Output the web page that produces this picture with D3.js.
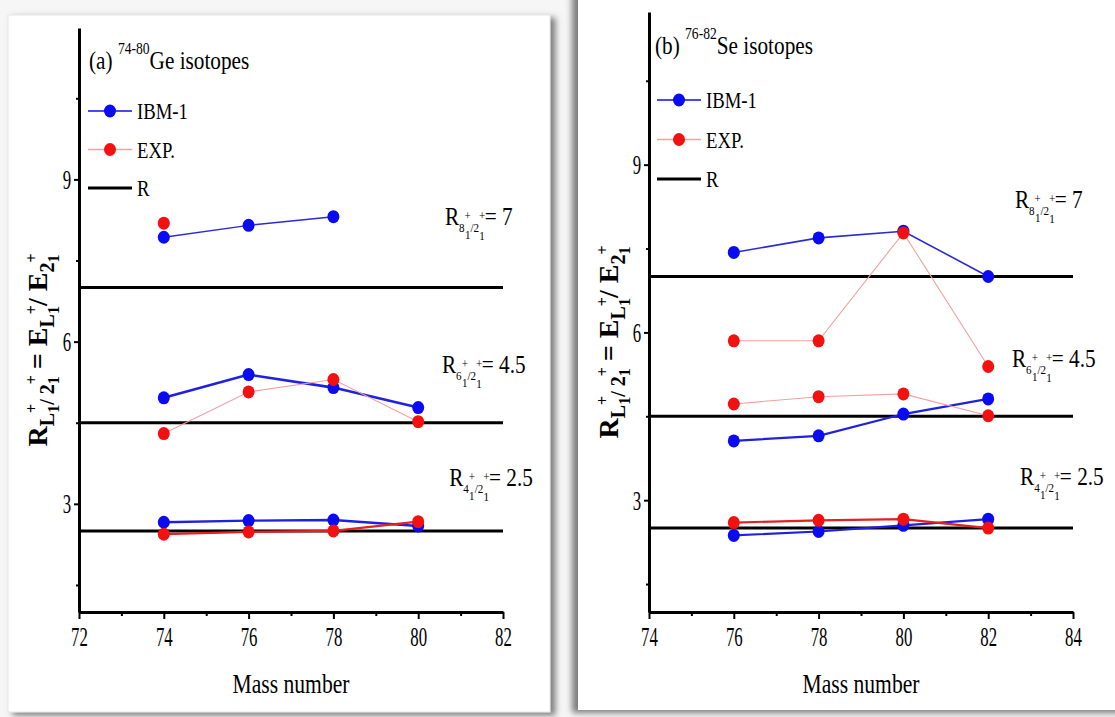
<!DOCTYPE html>
<html>
<head>
<meta charset="utf-8">
<script src="https://cdn.jsdelivr.net/npm/d3@7"></script>
<style>
body{margin:0;background:#f6f6f6;}
svg{display:block;}
text{font-family:"Liberation Serif","Times New Roman","DejaVu Serif",serif;fill:#000;}
</style>
</head>
<body>
<svg id="fig" width="1115" height="717"></svg>
<script>
// data
var geMass = [74, 76, 78, 80];
var geIbmR4 = [2.66, 2.69, 2.70, 2.59];
var geExpR4 = [2.44, 2.48, 2.50, 2.67];
var geIbmR6 = [4.96, 5.39, 5.15, 4.78];
var geExpR6 = [4.30, 5.07, 5.30, 4.52];
var geIbmR8 = [7.93, 8.15, 8.31];
var geExpR8 = [8.19];

var seMass = [76, 78, 80, 82];
var seIbmR4 = [2.37, 2.44, 2.55, 2.66];
var seExpR4 = [2.60, 2.64, 2.66, 2.50];
var seIbmR6 = [4.06, 4.15, 4.54, 4.81];
var seExpR6 = [4.72, 4.85, 4.90, 4.51];
var seIbmR8 = [7.43, 7.69, 7.81, 7.00];
var seExpR8 = [5.85, 5.85, 7.78, 5.39];

var limitValues = [2.5, 4.5, 7];
var limitSpin = ["4", "6", "8"];
var limitText = ["2.5", "4.5", "7"];
var yMajorTicks = [3, 6, 9];
var yMinorTicks = [1.5, 4.5, 7.5, 10.5];
var legendNames = ["IBM-1", "EXP.", "R"];

var blue = "#0b0bf2", red = "#f21010";
var svg = d3.select("#fig");
var defs = svg.append("defs");
function shadow(id, dx){
	var f = defs.append("filter").attr("id", id)
		.attr("x", "-10%").attr("y", "-10%").attr("width", "120%").attr("height", "120%");
	f.append("feDropShadow").attr("dx", dx).attr("dy", 3).attr("stdDeviation", 3)
		.attr("flood-color", "#666").attr("flood-opacity", 0.85);
}
shadow("shR", 5);
shadow("shL", -6);

// cards
svg.append("rect").attr("x", 8).attr("y", 15).attr("width", 542).attr("height", 697)
	.attr("fill", "#fff").attr("stroke", "#e6e6e6").attr("filter", "url(#shR)");
svg.append("rect").attr("x", 578).attr("y", -10).attr("width", 560).attr("height", 720)
	.attr("fill", "#fff").attr("filter", "url(#shL)");

function rich(sel, pieces){
	var cur = 0;
	pieces.forEach(function(p){
		var b = p.b || 0;
		var ts = sel.append("tspan").text(p.t).attr("font-size", p.s).attr("dy", b - cur);
		if(p.dx){ ts.attr("dx", p.dx); }
		cur = b;
	});
}

function drawPanel(p){
	var g = svg.append("g");
	var x = d3.scaleLinear().domain(p.xDomain).range(p.xRange);
	var y = d3.scaleLinear().domain(p.yDomain).range(p.yRange);
	var line = d3.line().x(function(d){ return x(d[0]); }).y(function(d){ return y(d[1]); });

	// reference R lines
	g.selectAll("line.ref").data(limitValues).enter().append("line")
		.attr("x1", x(p.xDomain[0])).attr("x2", x(p.xDomain[1]))
		.attr("y1", function(d){ return y(d); }).attr("y2", function(d){ return y(d); })
		.attr("stroke", "#000").attr("stroke-width", 3);

	// series
	p.series.forEach(function(s){
		var pts = s.values.map(function(v, i){ return [p.mass[i], v]; });
		g.append("path").datum(pts).attr("d", line)
			.attr("fill", "none").attr("stroke", s.line).attr("stroke-width", s.width);
	});
	p.series.forEach(function(s){
		var pts = s.values.map(function(v, i){ return [p.mass[i], v]; });
		g.selectAll(null).data(pts).enter().append("ellipse")
			.attr("cx", function(d){ return x(d[0]); }).attr("cy", function(d){ return y(d[1]); })
			.attr("rx", 6).attr("ry", 6.5).attr("fill", s.dot);
	});

	// axes
	var xMajor = d3.range(p.xDomain[0], p.xDomain[1] + 1, 2);
	var xMinor = d3.range(p.xDomain[0] + 1, p.xDomain[1], 2);
	g.append("g").attr("transform", "translate(0," + p.yRange[0] + ")")
		.call(d3.axisBottom(x).tickValues(xMajor).tickSize(7).tickSizeOuter(0).tickPadding(7).tickFormat(d3.format("d")));
	g.append("g").attr("transform", "translate(0," + p.yRange[0] + ")")
		.call(d3.axisBottom(x).tickValues(xMinor).tickSize(4).tickFormat(""))
		.select(".domain").remove();
	var ya = g.append("g").attr("transform", "translate(" + p.xRange[0] + ",0)")
		.call(d3.axisLeft(y).tickValues(yMajorTicks).tickSize(5).tickSizeOuter(0).tickPadding(1).tickFormat(d3.format("d")));
	g.append("g").attr("transform", "translate(" + p.xRange[0] + ",0)")
		.call(d3.axisLeft(y).tickValues(yMinorTicks).tickSize(3).tickFormat(""))
		.select(".domain").remove();
	g.selectAll(".domain").attr("stroke", "#000").attr("stroke-width", 3);
	g.selectAll(".tick line").attr("stroke", "#000").attr("stroke-width", 2);
	g.selectAll(".tick text").attr("font-family", "Liberation Serif, DejaVu Serif, serif").attr("font-size", 28).attr("fill", "#1a1a1a")
		.attr("transform", "scale(0.6,1)");
	ya.selectAll(".tick text").attr("x", -13);

	// axis title
	g.append("text").attr("transform", "translate(" + (x(p.xDomain[0]) + x(p.xDomain[1])) / 2 + ",693) scale(0.8,1)")
		.attr("text-anchor", "middle").attr("font-size", 27).text("Mass number");

	var yl = g.append("text").attr("text-anchor", "middle").attr("font-weight", "bold")
		.attr("transform", "translate(" + p.yLabel[0] + "," + p.yLabel[1] + ") rotate(-90)");
	rich(yl, [
		{t: "R", s: 28}, {t: "L", s: 20, b: 7}, {t: "+", s: 16, b: -10}, {t: "1", s: 16, b: 12, dx: -9},
		{t: "/", s: 20, b: 7}, {t: " 2", s: 20, b: 7}, {t: "+", s: 16, b: -10}, {t: "1", s: 16, b: 12, dx: -9},
		{t: " = E", s: 28}, {t: "L", s: 20, b: 7}, {t: "+", s: 16, b: -10}, {t: "1", s: 16, b: 12, dx: -9},
		{t: "/ E", s: 28}, {t: "2", s: 20, b: 7}, {t: "+", s: 16, b: -10}, {t: "1", s: 16, b: 12, dx: -9}
	]);

	// title
	var tt = g.append("text").attr("transform", "translate(" + p.title[0] + "," + p.title[1] + ") scale(0.85,1)");
	rich(tt, [{t: p.tag + " ", s: 25}, {t: p.range, s: 16, b: -15}, {t: p.element + " isotopes", s: 25}]);

	// legend
	var lg = g.append("g").attr("transform", "translate(" + p.legend[0] + ",0)");
	legendNames.forEach(function(name, i){
		var ly = p.legend[1] + i * p.legend[2];
		lg.append("line").attr("x1", 0).attr("x2", 44).attr("y1", ly).attr("y2", ly)
			.attr("stroke", i === 0 ? blue : (i === 1 ? "#f4a0a0" : "#000"))
			.attr("stroke-width", i === 2 ? 3 : 1.3);
		if(i < 2){
			lg.append("ellipse").attr("cx", 22).attr("cy", ly).attr("rx", 6).attr("ry", 6.5).attr("fill", i === 0 ? blue : red);
		}
		lg.append("text").attr("transform", "translate(49," + (ly + 8) + ") scale(0.78,1)")
			.attr("font-size", 24).text(name);
	});

	// R_L labels
	limitValues.forEach(function(v, i){
		var at = p.labelAt[i];
		var t = g.append("text").attr("transform", "translate(" + x(at[0]) + "," + y(at[1]) + ") scale(0.85,1)");
		rich(t, [
			{t: "R", s: 25}, {t: limitSpin[i], s: 13, b: 7}, {t: "+", s: 13, b: -5}, {t: "1", s: 13, b: 14, dx: -7},
			{t: "/2", s: 13, b: 7}, {t: "+", s: 13, b: -5}, {t: "1", s: 13, b: 15, dx: -7},
			{t: "= " + limitText[i], s: 25}
		]);
	});
}

drawPanel({
	xDomain: [72, 82], xRange: [79, 503],
	yDomain: [1, 11.8], yRange: [612, 28],
	mass: geMass,
	series: [
		{values: geIbmR4, line: "#2020e0", width: 2.4, dot: blue},
		{values: geIbmR6, line: "#2020e0", width: 2.6, dot: blue},
		{values: geIbmR8, line: "#2a2ad8", width: 1.4, dot: blue},
		{values: geExpR4, line: "#e42020", width: 2.2, dot: red},
		{values: geExpR6, line: "#f3a0a0", width: 1.1, dot: red},
		{values: geExpR8, line: "#f3a0a0", width: 1.1, dot: red}
	],
	yLabel: [47, 350],
	title: [89, 69], tag: "(a)", range: "74-80", element: "Ge",
	legend: [88, 111, 38.5],
	labelAt: [[80.73, 3.33], [80.56, 5.42], [80.63, 8.16]]
});

drawPanel({
	xDomain: [74, 84], xRange: [649, 1073],
	yDomain: [1, 11.73], yRange: [612, 12],
	mass: seMass,
	series: [
		{values: seIbmR4, line: "#2020e0", width: 2.2, dot: blue},
		{values: seIbmR6, line: "#2020e0", width: 2.2, dot: blue},
		{values: seIbmR8, line: "#2a2ad8", width: 1.6, dot: blue},
		{values: seExpR4, line: "#e42020", width: 2.2, dot: red},
		{values: seExpR6, line: "#f3a0a0", width: 1.1, dot: red},
		{values: seExpR8, line: "#f3a0a0", width: 1.1, dot: red}
	],
	yLabel: [618, 342],
	title: [655, 54], tag: "(b)", range: "76-82", element: "Se",
	legend: [657, 100, 39.5],
	labelAt: [[82.75, 3.27], [82.56, 5.38], [82.63, 8.23]]
});
</script>
</body>
</html>
